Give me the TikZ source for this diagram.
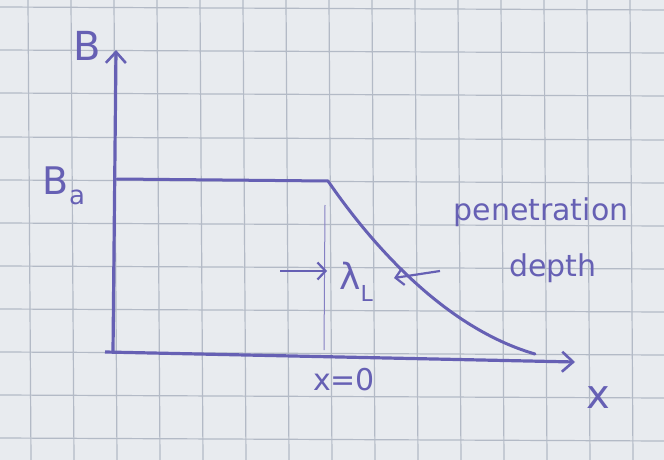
\documentclass[tikz,border=0pt]{standalone}
\usepackage{fontspec}
\setmainfont{DejaVu Sans}
\usetikzlibrary{arrows.meta}
\definecolor{paper}{HTML}{E8EBEF}
\definecolor{gridc}{HTML}{B3BAC6}
\definecolor{ink}{HTML}{6660B4}
\begin{document}
\begin{tikzpicture}[x=1pt,y=-1pt,
  axis/.style={draw=ink,line width=3.2pt,-{Straight Barb[length=11pt,width=20pt,line width=2.6pt]}},
  curve/.style={draw=ink,line width=3pt,line cap=round},
  thin/.style={draw=ink!80,line width=1pt},
  pointer/.style={draw=ink,line width=2.2pt,-{Straight Barb[length=8pt,width=17pt,line width=2.2pt]}},
  lab/.style={text=ink,inner sep=0pt,font=\fontsize{30}{32}\selectfont}
]
\fill[paper] (0,0) rectangle (664,460);
\useasboundingbox (0,0) rectangle (664,460);
\foreach \gx in {28,71,114,157,200,243,286,329,372,415,458,501,544,587,630}
  \draw[gridc,line width=1.2pt] (\gx,0) -- (\gx+3,460);
\foreach \gy in {7,50,93,137,180,223,266,309,352,395,438}
  \draw[gridc,line width=1.2pt] (0,\gy) -- (664,\gy+3);

\coordinate (O) at (113,352);
\coordinate (ytop) at (116,50);
\coordinate (xend) at (575,362);
\coordinate (xstart) at (105,352);
\coordinate (flat0) at (117,179);
\coordinate (knee) at (328,181);
\coordinate (tail) at (535,354);
\coordinate (vtop) at (325,205);
\coordinate (vbot) at (324,350);
\coordinate (la) at (280,271);
\coordinate (lb) at (327,271);
\coordinate (ra) at (440,271);
\coordinate (rb) at (394,278);

\draw[axis] (O) -- (ytop);
\draw[axis] (xstart) -- (xend);
\draw[curve] (flat0) -- (knee) .. controls (372,245) and (445,328) .. (tail);
\draw[thin] (vtop) -- (vbot);
\draw[pointer] (la) -- (lb);
\draw[pointer] (ra) -- (rb);

\node[lab,font=\fontsize{40}{42}\selectfont] (B) at (87,46) {B};
\node[lab,font=\fontsize{38}{40}\selectfont] (Ba) at (64,186) {B\raisebox{-0.25em}{\fontsize{26}{28}\selectfont a}};
\node[lab,font=\fontsize{36}{38}\selectfont] (lam) at (356,282) {λ\raisebox{-0.35em}{\fontsize{22}{24}\selectfont L}};
\node[lab] (pen) at (541,212) {penetration};
\node[lab] (dep) at (553,268) {depth};
\node[lab] (x0) at (344,380) {x=0};
\node[lab,font=\fontsize{40}{42}\selectfont] (xl) at (598,398) {x};
\end{tikzpicture}
\end{document}
